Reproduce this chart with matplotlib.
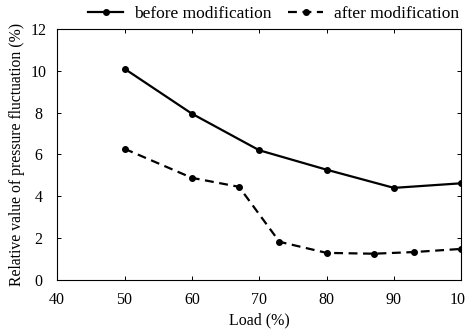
import matplotlib
matplotlib.use("Agg")
import matplotlib.pyplot as plt

# data
load_before = [50, 60, 70, 80, 90, 100]
before_vals = [10.1, 7.95, 6.2, 5.27, 4.4, 4.62]

load_after = [50, 60, 67, 73, 80, 87, 93, 100]
after_vals = [6.27, 4.88, 4.45, 1.82, 1.29, 1.25, 1.33, 1.48]

x_ticks = [40, 50, 60, 70, 80, 90, 100]
y_ticks = [0, 2, 4, 6, 8, 10, 12]

plt.rcParams['font.family'] = ['Liberation Serif', 'DejaVu Serif']

fig = plt.figure(figsize=(4.65, 3.3), dpi=100)
ax = fig.add_axes([0.123, 0.152, 0.869, 0.76])

ax.plot(load_before, before_vals, 'k-', lw=1.6, marker='o', ms=4, label='before modification')
ax.plot(load_after, after_vals, 'k--', lw=1.6, marker='o', ms=4, dashes=(4, 2.5),
        label='after modification')

ax.set_xlim(40, 100)
ax.set_ylim(0, 12)
ax.set_xticks(x_ticks)
ax.set_yticks(y_ticks)
ax.tick_params(direction='in', length=3, width=0.7, top=True, right=True,
               labelsize=11.5, colors='black')
ax.tick_params(axis='x', pad=9)
ax.tick_params(axis='y', pad=13.5)
for lab in ax.get_yticklabels():
    lab.set_horizontalalignment('center')
for s in ax.spines.values():
    s.set_linewidth(0.8)

ax.set_xlabel('Load (%)', fontsize=11.5, labelpad=3)
ax.set_ylabel('Relative value of pressure fluctuation (%)', fontsize=11.3, labelpad=4)

ax.legend(loc='lower right', bbox_to_anchor=(1.015, 0.995), ncol=2, frameon=False,
          fontsize=12.5, handlelength=2.0, columnspacing=1.0, handletextpad=0.6,
          borderaxespad=0.1)

fig.savefig('out.png', dpi=100)
